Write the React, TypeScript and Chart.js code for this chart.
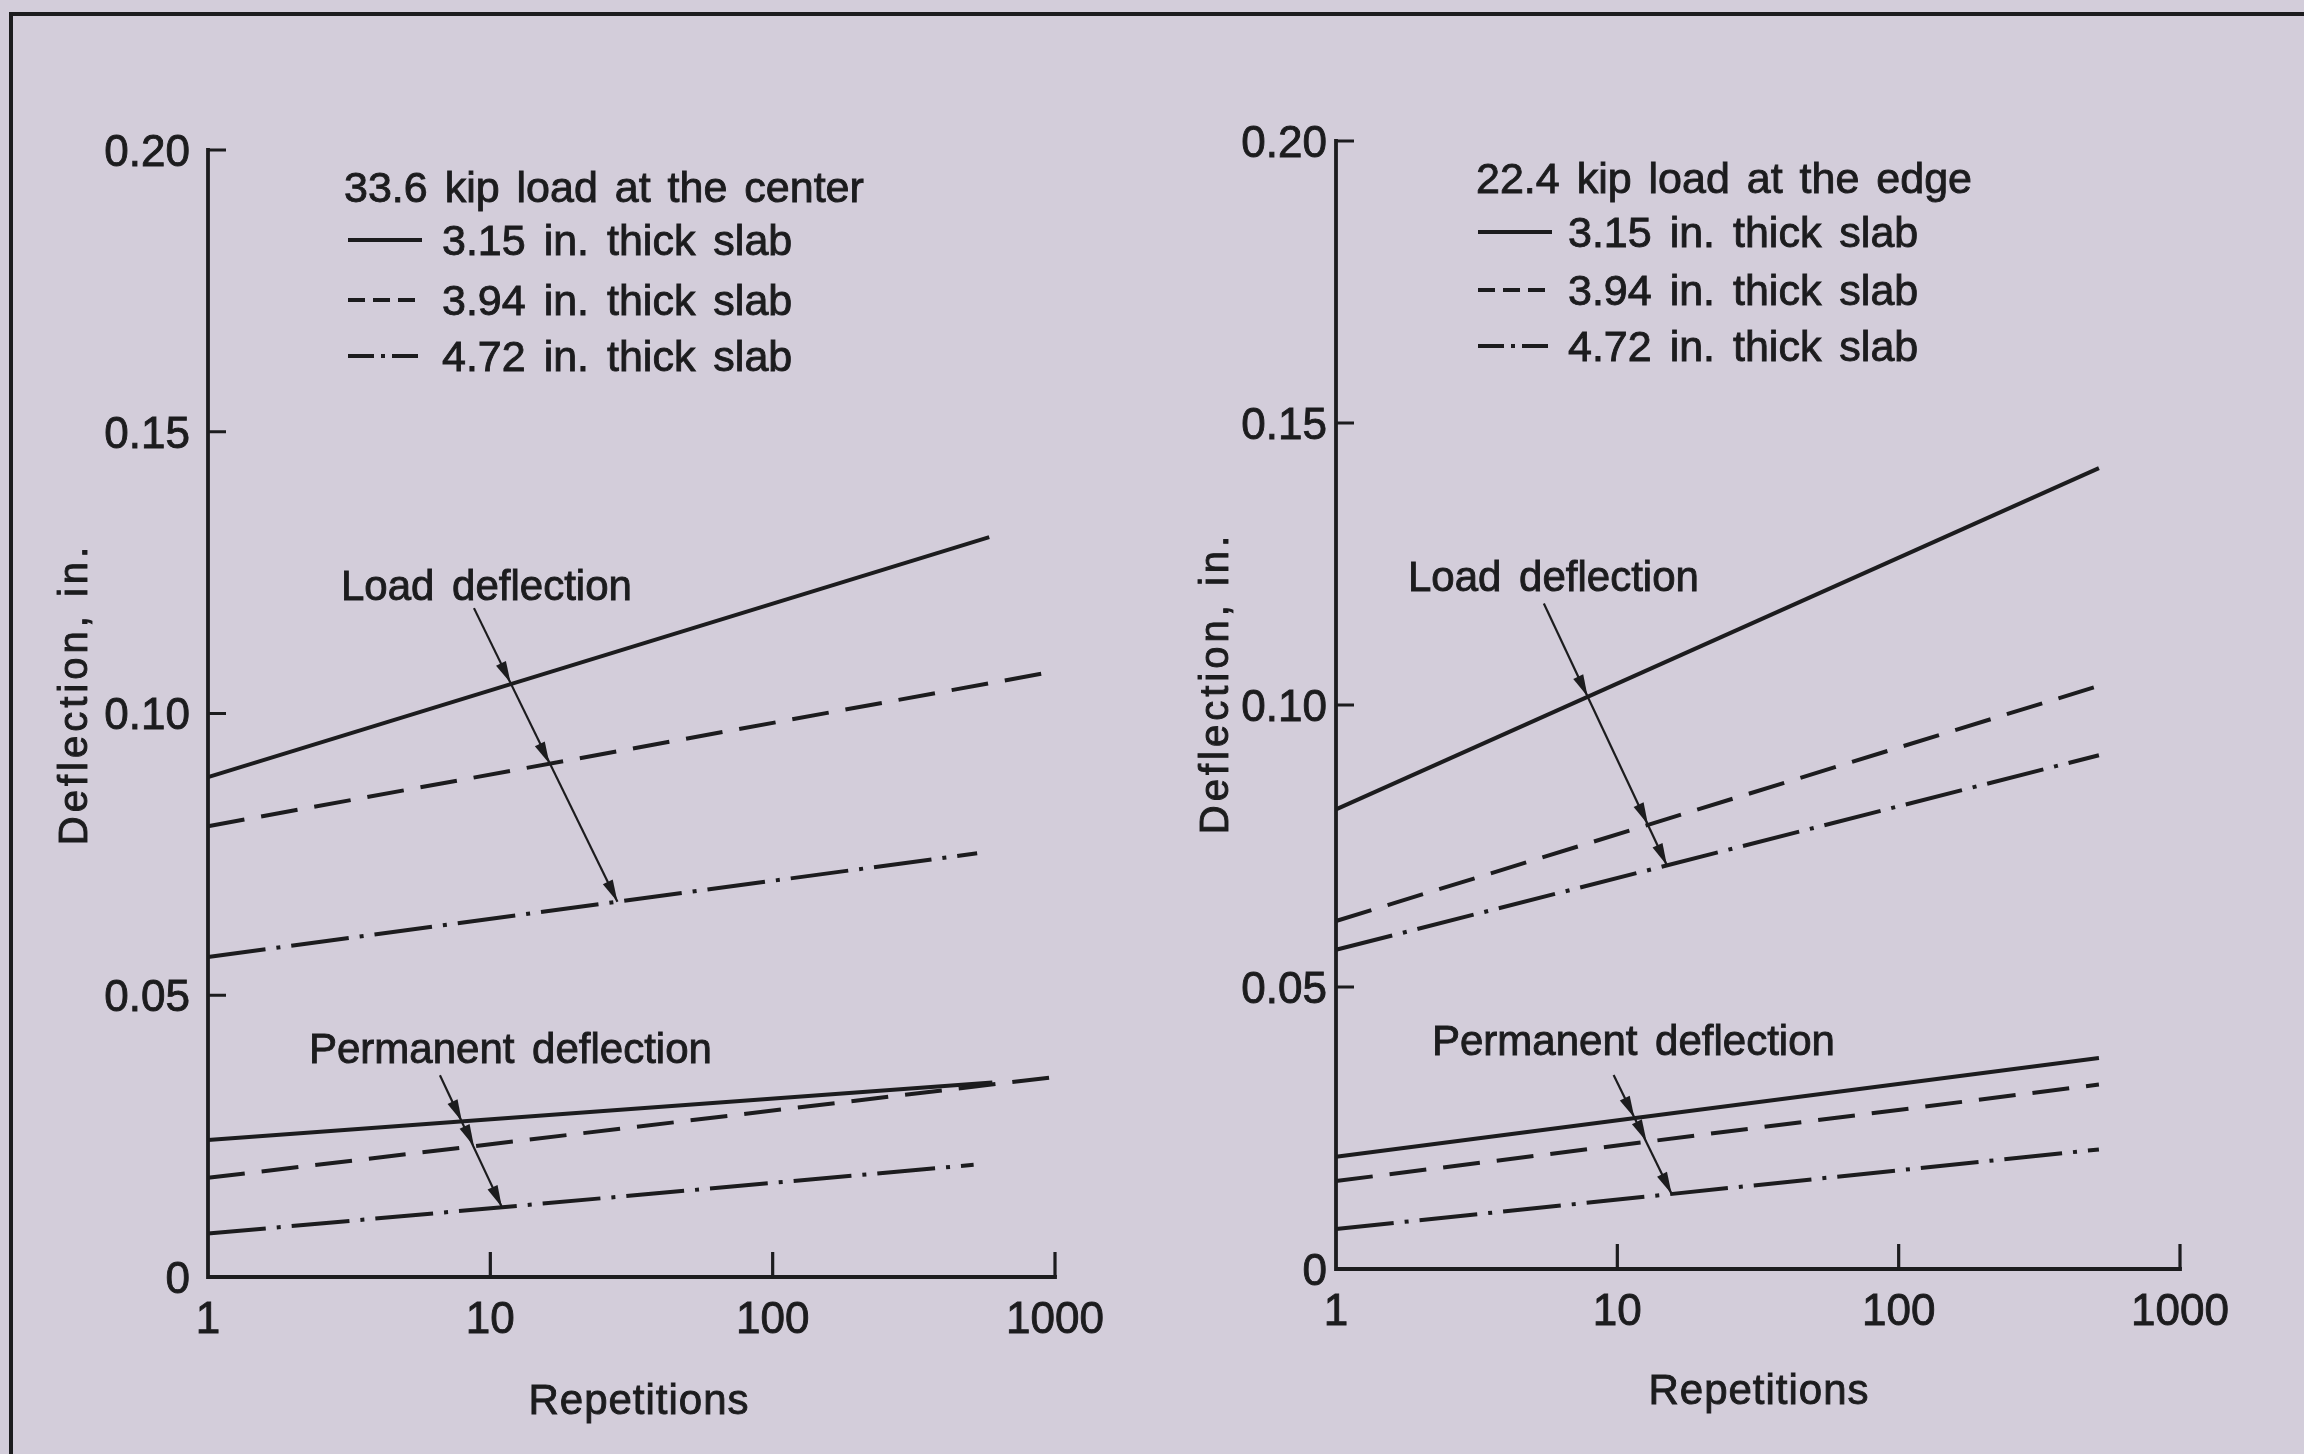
import React, { useEffect, useRef } from 'react';
import { Chart, registerables } from 'chart.js';

Chart.register(...registerables);

// ---------------- data ----------------
const X_TICKS = [1, 10, 100, 1000];
const X_TICK_LABELS = ['1', '10', '100', '1000'];
const Y_TICKS = [0, 0.05, 0.1, 0.15, 0.2];
const Y_TICK_LABELS = ['0', '0.05', '0.10', '0.15', '0.20'];

const SLAB_NAMES = ['3.15 in. thick slab', '3.94 in. thick slab', '4.72 in. thick slab'];
const LEFT_TITLE = '33.6 kip load at the center';
const RIGHT_TITLE = '22.4 kip load at the edge';
const LOAD_LABEL = 'Load deflection';
const PERM_LABEL = 'Permanent deflection';
const X_TITLE = 'Repetitions';
const Y_TITLE = 'Deflection, in.';

// [repetitions, deflection in.]
const LEFT_LOAD_315 = [[1, 0.0887], [585, 0.1313]];
const LEFT_LOAD_394 = [[1, 0.08], [1000, 0.1075]];
const LEFT_LOAD_472 = [[1, 0.0568], [530, 0.0752]];
const LEFT_PERM_315 = [[1, 0.0243], [600, 0.0345]];
const LEFT_PERM_394 = [[1, 0.0176], [1000, 0.0355]];
const LEFT_PERM_472 = [[1, 0.0077], [515, 0.0199]];

const RIGHT_LOAD_315 = [[1, 0.0815], [515, 0.142]];
const RIGHT_LOAD_394 = [[1, 0.0617], [515, 0.1034]];
const RIGHT_LOAD_472 = [[1, 0.0566], [515, 0.0911]];
const RIGHT_PERM_315 = [[1, 0.0199], [515, 0.0374]];
const RIGHT_PERM_394 = [[1, 0.0156], [515, 0.0327]];
const RIGHT_PERM_472 = [[1, 0.0071], [515, 0.0212]];

// arrow start + arrowhead tips, [repetitions, deflection]
const LEFT_LOAD_ARROW = [[8.75, 0.1187], [11.8, 0.1054], [16.2, 0.0911], [28.2, 0.0666]];
const LEFT_PERM_ARROW = [[6.63, 0.0358], [7.93, 0.0276], [8.75, 0.0232], [10.99, 0.0124]];
const RIGHT_LOAD_ARROW = [[5.48, 0.118], [7.84, 0.1015], [12.85, 0.0788], [15.0, 0.0716]];
const RIGHT_PERM_ARROW = [[9.7, 0.0344], [11.5, 0.0268], [12.7, 0.0226], [15.6, 0.0133]];

// ---------------- styles / layout ----------------
const INK = '#1c1c1e';
const BG = '#d3cdda';
const FONT = '"Liberation Sans", Arial, sans-serif';
const DASHES = [[], [37, 17], [58, 11, 4, 11]];
const LEGEND_DASHES = [[], [17, 8], [26, 7, 4, 7]];

const PANELS = [
  {
    key: 'left',
    canvasLeft: 0,
    canvasWidth: 1150,
    padding: { left: 208, right: 95, top: 150, bottom: 177 },
    yLabelGap: 18,
    title: LEFT_TITLE,
    series: [LEFT_LOAD_315, LEFT_LOAD_394, LEFT_LOAD_472, LEFT_PERM_315, LEFT_PERM_394, LEFT_PERM_472],
    arrows: [LEFT_LOAD_ARROW, LEFT_PERM_ARROW],
    legend: { x: 344, titleY: 187, rows: [240, 300, 356], s0: 348, s1: 422, tx: 442 },
    loadLabel: { x: 341, y: 585 },
    permLabel: { x: 309, y: 1048 },
    yTitle: { x: 73, y: 694 },
    xTitle: { x: 639, y: 1399 },
  },
  {
    key: 'right',
    canvasLeft: 1150,
    canvasWidth: 1154,
    padding: { left: 186, right: 124, top: 141, bottom: 185 },
    yLabelGap: 9,
    title: RIGHT_TITLE,
    series: [RIGHT_LOAD_315, RIGHT_LOAD_394, RIGHT_LOAD_472, RIGHT_PERM_315, RIGHT_PERM_394, RIGHT_PERM_472],
    arrows: [RIGHT_LOAD_ARROW, RIGHT_PERM_ARROW],
    legend: { x: 1476, titleY: 178, rows: [232, 290, 346], s0: 1478, s1: 1552, tx: 1568 },
    loadLabel: { x: 1408, y: 576 },
    permLabel: { x: 1432, y: 1040 },
    yTitle: { x: 1214, y: 683 },
    xTitle: { x: 1759, y: 1389 },
  },
];

function drawText(ctx: any, s: string, x: number, y: number, size: number, align: string, ls = 0, ws = 0) {
  ctx.save();
  ctx.font = `normal ${size}px ${FONT}`;
  ctx.fillStyle = INK;
  ctx.strokeStyle = INK;
  ctx.lineWidth = 0.9;
  ctx.textAlign = align;
  ctx.textBaseline = 'alphabetic';
  try {
    ctx.letterSpacing = `${ls}px`;
    ctx.wordSpacing = `${ws}px`;
  } catch (e) {}
  ctx.fillText(s, x, y + size * 0.36);
  ctx.strokeText(s, x, y + size * 0.36);
  ctx.restore();
}

function makeDeco(panel: any) {
  return {
    id: 'deco_' + panel.key,
    afterDatasetsDraw(chart: any) {
      const ctx = chart.ctx;
      const xs = chart.scales.x;
      const ys = chart.scales.y;
      const X = (v: number) => xs.getPixelForValue(v);
      const Y = (v: number) => ys.getPixelForValue(v);
      const off = panel.canvasLeft;
      const x0 = X(1);
      const y0 = Y(0);

      ctx.save();
      ctx.strokeStyle = INK;
      ctx.lineCap = 'square';
      // axes
      ctx.lineWidth = 3.8;
      ctx.beginPath();
      ctx.moveTo(x0, Y(0.2));
      ctx.lineTo(x0, y0);
      ctx.lineTo(X(1000), y0);
      ctx.stroke();
      ctx.lineWidth = 3.2;
      ctx.lineCap = 'butt';
      ctx.beginPath();
      Y_TICKS.forEach((t) => {
        if (t === 0) return;
        ctx.moveTo(x0, Y(t));
        ctx.lineTo(x0 + 18, Y(t));
      });
      X_TICKS.forEach((t) => {
        if (t === 1) return;
        ctx.moveTo(X(t), y0);
        ctx.lineTo(X(t), y0 - 25);
      });
      ctx.stroke();
      ctx.restore();

      // tick labels
      Y_TICKS.forEach((t, i) => drawText(ctx, Y_TICK_LABELS[i], x0 - panel.yLabelGap, Y(t), 44, 'right'));
      X_TICKS.forEach((t, i) => drawText(ctx, X_TICK_LABELS[i], X(t), y0 + 40, 44, 'center'));

      // axis titles
      drawText(ctx, X_TITLE, panel.xTitle.x - off, panel.xTitle.y, 42, 'center', 1);
      ctx.save();
      ctx.translate(panel.yTitle.x - off, panel.yTitle.y);
      ctx.rotate(-Math.PI / 2);
      drawText(ctx, Y_TITLE, 0, 0, 40, 'center', 4);
      ctx.restore();

      // legend
      const lg = panel.legend;
      drawText(ctx, panel.title, lg.x - off, lg.titleY, 43, 'left', 0, 5);
      SLAB_NAMES.forEach((name, i) => {
        const y = lg.rows[i];
        ctx.save();
        ctx.strokeStyle = INK;
        ctx.lineWidth = 3.8;
        ctx.setLineDash(LEGEND_DASHES[i]);
        ctx.beginPath();
        ctx.moveTo(lg.s0 - off, y);
        ctx.lineTo(lg.s1 - off, y);
        ctx.stroke();
        ctx.restore();
        drawText(ctx, name, lg.tx - off, y, 43, 'left', 0, 6);
      });

      // annotation labels
      drawText(ctx, LOAD_LABEL, panel.loadLabel.x - off, panel.loadLabel.y, 42, 'left', 0, 6);
      drawText(ctx, PERM_LABEL, panel.permLabel.x - off, panel.permLabel.y, 42, 'left', 0, 6);

      // arrows
      panel.arrows.forEach((arr: number[][]) => {
        const pts = arr.map((p) => [X(p[0]), Y(p[1])]);
        ctx.save();
        ctx.strokeStyle = INK;
        ctx.fillStyle = INK;
        ctx.lineWidth = 2.2;
        ctx.beginPath();
        ctx.moveTo(pts[0][0], pts[0][1]);
        ctx.lineTo(pts[pts.length - 1][0], pts[pts.length - 1][1]);
        ctx.stroke();
        const a = pts[0];
        const b = pts[pts.length - 1];
        const ang = Math.atan2(b[1] - a[1], b[0] - a[0]);
        for (let i = 1; i < pts.length; i++) {
          const [tx, ty] = pts[i];
          const L = 22;
          const W = 5.5;
          const bx = tx - L * Math.cos(ang);
          const by = ty - L * Math.sin(ang);
          ctx.beginPath();
          ctx.moveTo(tx, ty);
          ctx.lineTo(bx + W * Math.sin(ang), by - W * Math.cos(ang));
          ctx.lineTo(bx - W * Math.sin(ang), by + W * Math.cos(ang));
          ctx.closePath();
          ctx.fill();
        }
        ctx.restore();
      });
    },
  };
}

function Panel({ panel }: { panel: any }) {
  const ref = useRef<HTMLCanvasElement | null>(null);
  useEffect(() => {
    if (!ref.current) return;
    const datasets = panel.series.map((s: number[][], i: number) => ({
      label: SLAB_NAMES[i % 3],
      data: s.map((p) => ({ x: p[0], y: p[1] })),
      borderColor: INK,
      borderWidth: 4,
      borderDash: DASHES[i % 3],
      pointRadius: 0,
      fill: false,
      tension: 0,
      clip: false,
    }));
    const chart = new Chart(ref.current, {
      type: 'line',
      data: { datasets },
      options: {
        responsive: false,
        animation: false,
        devicePixelRatio: 1,
        layout: { padding: panel.padding },
        scales: {
          x: { type: 'logarithmic', min: 1, max: 1000, display: false },
          y: { type: 'linear', min: 0, max: 0.2, display: false },
        },
        plugins: { legend: { display: false }, tooltip: { enabled: false } },
      },
      plugins: [makeDeco(panel)],
    } as any);
    return () => chart.destroy();
  }, [panel]);
  return (
    <canvas
      ref={ref}
      width={panel.canvasWidth}
      height={1454}
      style={{ position: 'absolute', left: panel.canvasLeft, top: 0, width: panel.canvasWidth, height: 1454 }}
    />
  );
}

export default function App() {
  return (
    <div style={{ position: 'fixed', left: 0, top: 0, width: 2304, height: 1454, background: BG, overflow: 'hidden' }}>
      <div style={{ position: 'absolute', left: 9, top: 12, width: 2304, height: 4, background: INK }} />
      <div style={{ position: 'absolute', left: 9, top: 12, width: 4, height: 1454, background: INK }} />
      {PANELS.map((p) => (
        <Panel key={p.key} panel={p} />
      ))}
    </div>
  );
}
